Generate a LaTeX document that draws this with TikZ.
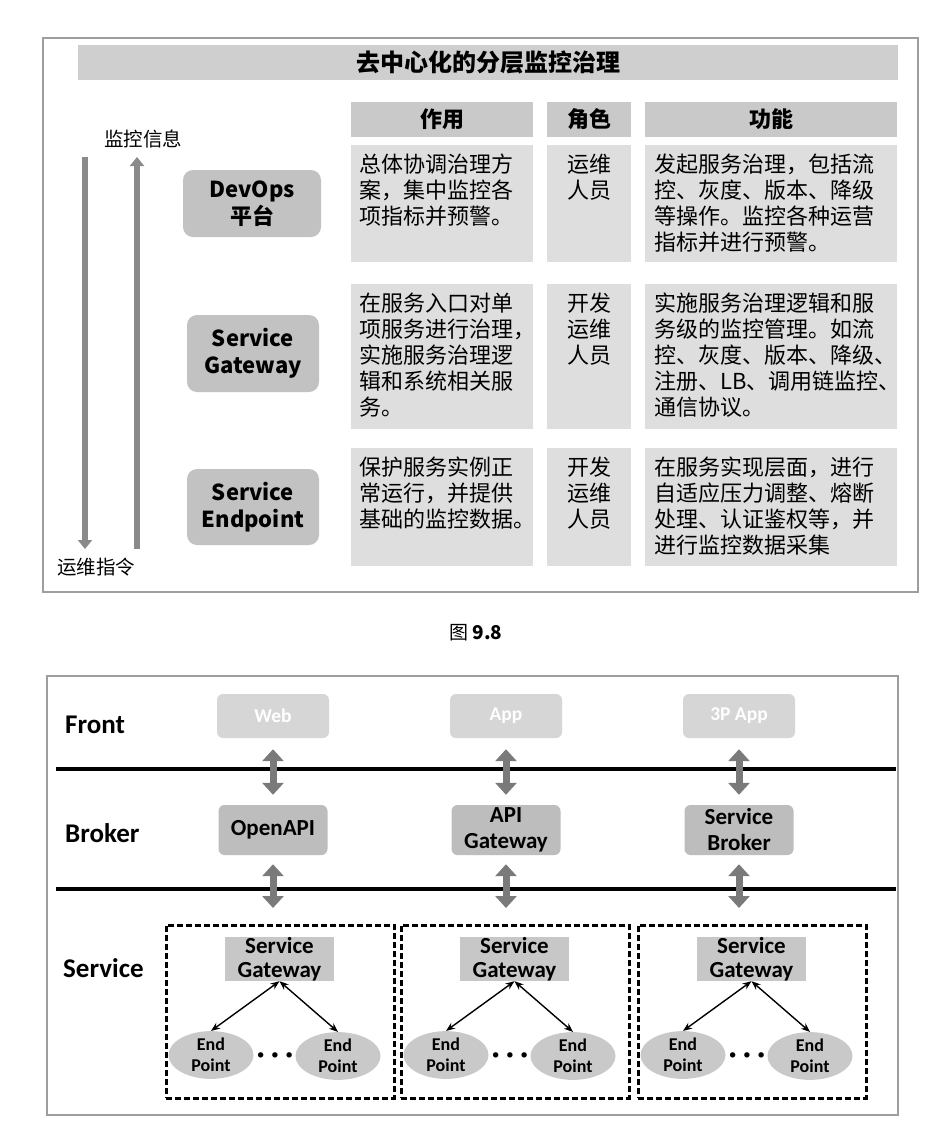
\documentclass[tikz,border=0pt]{standalone}
\usepackage{fontspec}
\setmainfont{Noto Sans CJK SC}
\newfontfamily\latn{Carlito}
\usetikzlibrary{shapes.geometric,arrows.meta}

\newcommand{\cellstrut}{\rule{0pt}{21pt}}

\begin{document}
\begin{tikzpicture}[x=1pt, y=-1pt,
    frame/.style={draw=black!38, line width=1.3pt},
    shade/.style={fill=black!19},
    hcell/.style={fill=black!21},
    cell/.style={fill=black!13},
    head/.style={inner sep=0pt, font=\fontsize{22}{26}\selectfont\bfseries},
    body/.style={anchor=north west, inner sep=0pt, align=left, font=\fontsize{22}{26}\selectfont},
    role/.style={anchor=north, inner sep=0pt, align=center, font=\fontsize{22}{26}\selectfont},
    tier/.style={fill=black!24, rounded corners=10pt, align=center, inner sep=0pt, font=\fontsize{22}{27}\selectfont\bfseries},
    flow/.style={line width=6.5pt, draw=black!46, -{Triangle[width=14pt,length=9pt]}},
    side/.style={inner sep=0pt, font=\fontsize{19.5}{22}\selectfont},
    layer/.style={anchor=west, inner sep=0pt, font=\latn\bfseries\fontsize{27}{30}\selectfont},
    front/.style={fill=black!16, rounded corners=6pt, minimum width=112pt, minimum height=44pt, text=white, font=\latn\bfseries\fontsize{19.5}{22}\selectfont},
    broker/.style={fill=black!26, rounded corners=6pt, minimum width=109pt, minimum height=50pt, align=center, inner sep=0pt, font=\latn\bfseries\fontsize{23}{26}\selectfont},
    svc/.style={draw, line width=2.6pt, dash pattern=on 6pt off 3pt, minimum width=228pt, minimum height=173pt, anchor=north west},
    gw/.style={fill=black!22, minimum width=109pt, minimum height=44pt, align=center, inner sep=0pt, font=\latn\bfseries\fontsize{23}{24}\selectfont},
    ep/.style={ellipse, fill=black!21, minimum width=85pt, minimum height=43pt, inner sep=0pt, align=center, font=\latn\bfseries\fontsize{18}{21}\selectfont},
    dots/.style={inner sep=0pt, font=\latn\bfseries\fontsize{29}{30}\selectfont},
    dbl/.style={line width=7pt, draw=black!52, {Triangle[width=21pt,length=12pt]}-{Triangle[width=21pt,length=12pt]}},
    link/.style={line width=1.4pt, {Stealth[length=9pt,width=7pt]}-{Stealth[length=9pt,width=7pt]}}
]
% page ground
\fill[white] (0,0) rectangle (951,1128);
\useasboundingbox (0,0) rectangle (951,1128);

% ===== upper figure: layered monitoring table
\draw[frame] (43,38) rectangle (918,592);
\fill[shade] (78,45) rectangle (898,80);
\node[head, font=\fontsize{24}{28}\selectfont\bfseries] (title) at (488,62.5) {去中心化的分层监控治理};

% column heads
\fill[hcell] (351,102) rectangle (533,137);
\fill[hcell] (547,102) rectangle (631,137);
\fill[hcell] (645,102) rectangle (897,137);
\node[head] (hUse) at (442,119.5) {作用};
\node[head] (hRole) at (589,119.5) {角色};
\node[head] (hFunc) at (771,119.5) {功能};

% row 1: DevOps
\fill[cell] (351,145) rectangle (533,262);
\fill[cell] (547,145) rectangle (631,262);
\fill[cell] (645,145) rectangle (897,262);
\node[body] (use1) at (359,151) {\cellstrut 总体协调治理方\\案，集中监控各\\项指标并预警。};
\node[role] (role1) at (589,151) {\cellstrut 运维\\人员};
\node[body] (func1) at (654,151) {\cellstrut 发起服务治理，包括流\\控、灰度、版本、降级\\等操作。监控各种运营\\指标并进行预警。};

% row 2: Service Gateway
\fill[cell] (351,284) rectangle (533,429);
\fill[cell] (547,284) rectangle (631,429);
\fill[cell] (645,284) rectangle (897,429);
\node[body] (use2) at (359,290) {\cellstrut 在服务入口对单\\项服务进行治理，\\实施服务治理逻\\辑和系统相关服\\务。};
\node[role] (role2) at (589,290) {\cellstrut 开发\\运维\\人员};
\node[body] (func2) at (654,290) {\cellstrut 实施服务治理逻辑和服\\务级的监控管理。如流\\控、灰度、版本、降级、\\注册、LB、调用链监控、\\通信协议。};

% row 3: Service Endpoint
\fill[cell] (351,448) rectangle (533,566);
\fill[cell] (547,448) rectangle (631,566);
\fill[cell] (645,448) rectangle (897,566);
\node[body] (use3) at (359,454) {\cellstrut 保护服务实例正\\常运行，并提供\\基础的监控数据。};
\node[role] (role3) at (589,454) {\cellstrut 开发\\运维\\人员};
\node[body] (func3) at (654,454) {\cellstrut 在服务实现层面，进行\\自适应压力调整、熔断\\处理、认证鉴权等，并\\进行监控数据采集};

% layers on the left
\node[tier, minimum width=138pt, minimum height=67pt] (devops) at (252,203.5) {DevOps\\平台};
\node[tier, minimum width=132pt, minimum height=77pt] (sgw) at (253,353.5) {Service\\Gateway};
\node[tier, minimum width=132pt, minimum height=76pt] (sep) at (253,507) {Service\\Endpoint};

% command down, info up
\coordinate (cmdTop) at (85,157);
\coordinate (cmdEnd) at (85,549);
\coordinate (infoStart) at (137,549);
\coordinate (infoEnd) at (137,157);
\draw[flow] (cmdTop) -- (cmdEnd);
\draw[flow] (infoStart) -- (infoEnd);
\node[side] (info) at (143,139) {监控信息};
\node[side] (cmd) at (96,567) {运维指令};

% caption
\node[inner sep=0pt, font=\fontsize{19}{22}\selectfont] (cap) at (476,633) {图 \textbf{9.8}};

% ===== lower figure: front / broker / service
\draw[frame] (47,676) rectangle (898,1115);
\draw[line width=3.5pt] (56,769) -- (896,769);
\draw[line width=3.5pt] (56,889) -- (896,889);

\node[layer] (lFront) at (65,725) {Front};
\node[layer] (lBroker) at (65,833) {Broker};
\node[layer] (lService) at (63,968) {Service};

% front apps
\node[front] (web) at (273,716) {Web};
\node[front] (app) at (506,716) {App};
\node[front] (app3p) at (739,716) {3P App};

% brokers
\node[broker] (openapi) at (273,830) {OpenAPI};
\node[broker] (apigw) at (506,830) {API\\Gateway};
\node[broker] (sbroker) at (739,830) {Service\\Broker};

% service groups
\node[svc] (grp1) at (165,924) {};
\node[svc] (grp2) at (400,924) {};
\node[svc] (grp3) at (637,924) {};

\node[gw] (gw1) at (279.5,959) {Service\\Gateway};
\node[gw] (gw2) at (514.5,959) {Service\\Gateway};
\node[gw] (gw3) at (751.5,959) {Service\\Gateway};

\node[ep] (ep1a) at (211,1055) {End\\Point};
\node[ep] (ep1b) at (338,1056) {End\\Point};
\node[ep] (ep2a) at (446,1055) {End\\Point};
\node[ep] (ep2b) at (573,1056) {End\\Point};
\node[ep] (ep3a) at (683,1055) {End\\Point};
\node[ep] (ep3b) at (810,1056) {End\\Point};

\node[dots] (more1) at (275,1058) {· · ·};
\node[dots] (more2) at (510,1058) {· · ·};
\node[dots] (more3) at (747,1058) {· · ·};

% front <-> broker <-> service
\draw[dbl, shorten <=11pt, shorten >=10pt] (web) -- (openapi);
\draw[dbl, shorten <=11pt, shorten >=10pt] (app) -- (apigw);
\draw[dbl, shorten <=11pt, shorten >=10pt] (app3p) -- (sbroker);
\draw[dbl, shorten <=9pt, shorten >=16pt] (openapi.south) -- (openapi.south |- grp1.north);
\draw[dbl, shorten <=9pt, shorten >=16pt] (apigw.south) -- (apigw.south |- grp2.north);
\draw[dbl, shorten <=9pt, shorten >=16pt] (sbroker.south) -- (sbroker.south |- grp3.north);

% gateway <-> endpoints
\draw[link] (gw1.south) -- (ep1a.north);
\draw[link] (gw1.south) -- (ep1b.north);
\draw[link] (gw2.south) -- (ep2a.north);
\draw[link] (gw2.south) -- (ep2b.north);
\draw[link] (gw3.south) -- (ep3a.north);
\draw[link] (gw3.south) -- (ep3b.north);

\end{tikzpicture}
\end{document}
